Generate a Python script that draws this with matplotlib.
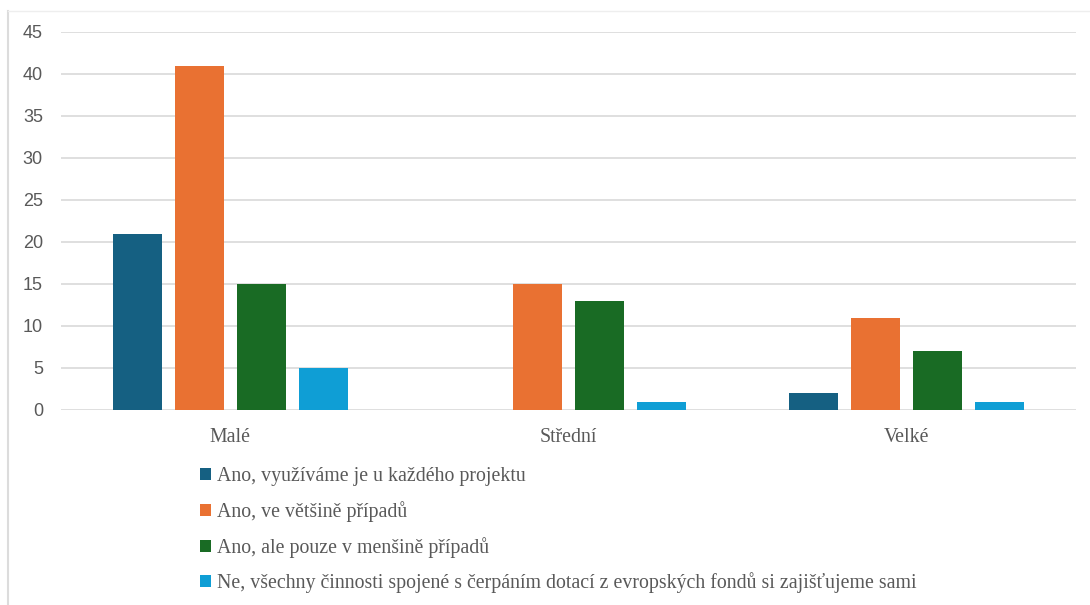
import matplotlib
matplotlib.use("Agg")
import matplotlib.pyplot as plt
from matplotlib.lines import Line2D
import numpy as np

categories = ["Malé", "Střední", "Velké"]
series_names = [
    "Ano, využíváme je u každého projektu",
    "Ano, ve většině případů",
    "Ano, ale pouze v menšině případů",
    "Ne, všechny činnosti spojené s čerpáním dotací z evropských fondů si zajišťujeme sami",
]
s1 = [21, 0, 2]
s2 = [41, 15, 11]
s3 = [15, 13, 7]
s4 = [5, 1, 1]
series_values = [s1, s2, s3, s4]
colors = ["#156082", "#E97132", "#196B24", "#0F9ED5"]
yticks = [0, 5, 10, 15, 20, 25, 30, 35, 40, 45]

W, H = 1090, 605
fig = plt.figure(figsize=(W / 100, H / 100), dpi=100)
ax = fig.add_axes([61 / W, 1 - 410 / H, (1076 - 61) / W, (410 - 32) / H])

x = np.arange(len(categories))
bw = 0.145
step = 0.183
handles = []
for i, (name, vals, c) in enumerate(zip(series_names, series_values, colors)):
    b = ax.bar(x + (i - 1.5) * step, vals, width=bw, color=c, label=name, zorder=3)
    handles.append(b)

ax.set_xlim(-0.5, 2.5)
ax.set_ylim(0, 45)
ax.set_yticks(yticks)
ax.set_yticklabels([str(v) for v in yticks], fontsize=13, color="#595959",
                   family=["Liberation Sans", "DejaVu Sans"])
ax.set_xticks(x)
ax.set_xticklabels(categories, fontsize=14.3, color="#595959",
                   family=["Liberation Serif", "DejaVu Serif"])
ax.tick_params(axis="y", length=0, pad=13)
ax.tick_params(axis="x", length=0, pad=13)
ax.grid(axis="y", color="#d9d9d9", linewidth=1.2, zorder=0)
for sp in ax.spines.values():
    sp.set_visible(False)

leg = fig.legend(handles=handles, labels=series_names, loc="upper left",
                 bbox_to_anchor=(200 / W, 1 - 467 / H), frameon=False,
                 prop={"family": ["Liberation Serif", "DejaVu Serif"], "size": 14.3},
                 labelspacing=0.75, handlelength=0.55, handleheight=0.55,
                 handletextpad=0.3, borderpad=0, borderaxespad=0)
for t in leg.get_texts():
    t.set_color("#595959")

# outer chart border (left and top visible)
fig.add_artist(Line2D([7.5 / W, 7.5 / W], [1 - 10.5 / H, 0], transform=fig.transFigure,
                      color="#dcdcdc", linewidth=1.5))
fig.add_artist(Line2D([7.5 / W, 1], [1 - 10.5 / H, 1 - 10.5 / H], transform=fig.transFigure,
                      color="#eeeeee", linewidth=1.0))

fig.savefig("out.png", dpi=100)
